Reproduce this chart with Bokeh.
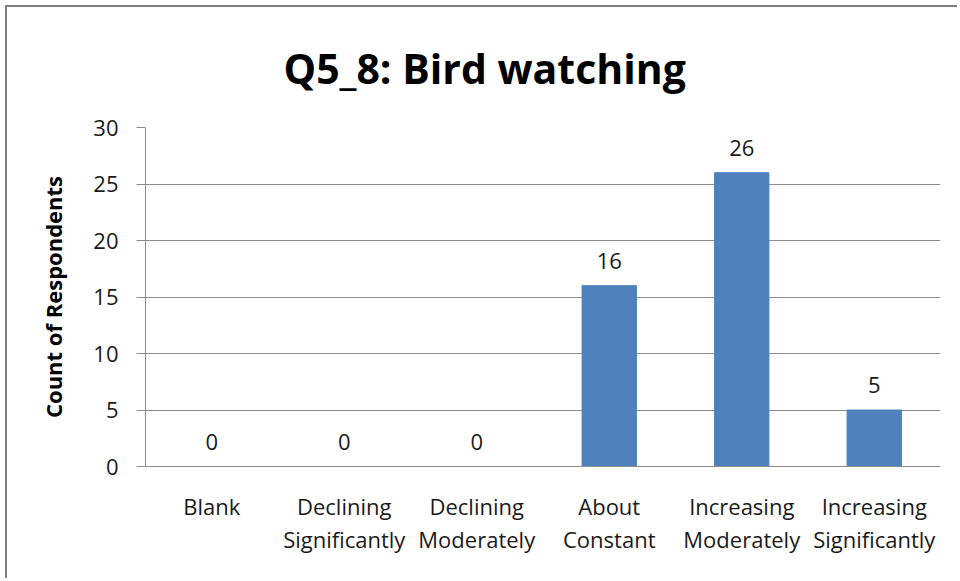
from bokeh.plotting import figure
from bokeh.models import ColumnDataSource, LabelSet, Title, FixedTicker
from bokeh.core.properties import value
from bokeh.embed import file_html
from bokeh.resources import INLINE

title_text = "Q5_8: Bird watching"
categories = ["Blank", "Declining\nSignificantly", "Declining\nModerately",
              "About\nConstant", "Increasing\nModerately", "Increasing\nSignificantly"]
counts = [0, 0, 0, 16, 26, 5]
y_ticks = [0, 5, 10, 15, 20, 25, 30]

FONT = "Open Sans"
TXT = "#1a1a1a"
GRID = "#8c8c8c"
FS = "22px"

source = ColumnDataSource(dict(cat=categories, count=counts,
                               label=[str(c) for c in counts]))

p = figure(x_range=categories, y_range=(0, 30), width=952, height=573,
           output_backend="svg", toolbar_location=None, tools="",
           min_border_left=138, min_border_right=19,
           min_border_top=112, min_border_bottom=114,
           margin=(5, 0, 0, 5))
p.title = None
t = Title(text=title_text, align="left", offset=138, vertical_align="middle",
          text_font=FONT, text_font_size="41px", text_font_style="bold",
          text_color="black", standoff=62)
p.add_layout(t, "above")

p.vbar(x="cat", top="count", width=0.41, source=source,
       fill_color="#4F81BD", line_color="#4F81BD")

labels = LabelSet(x="cat", y="count", text="label", source=source,
                  y_offset=17, text_align="center", text_baseline="bottom",
                  text_font=value(FONT), text_font_size=FS, text_color=TXT)
p.add_layout(labels)

p.outline_line_color = None
p.background_fill_color = "white"
p.border_fill_color = "white"

p.xgrid.grid_line_color = None
p.ygrid.grid_line_color = GRID
p.ygrid.grid_line_width = 1

p.yaxis.ticker = FixedTicker(ticks=y_ticks)
p.yaxis.axis_line_color = GRID
p.yaxis.major_tick_line_color = GRID
p.yaxis.major_tick_out = 9
p.yaxis.major_tick_in = 0
p.yaxis.minor_tick_line_color = None
p.yaxis.major_label_text_font = FONT
p.yaxis.major_label_text_font_size = FS
p.yaxis.major_label_text_color = TXT
p.yaxis.major_label_standoff = 18
p.yaxis.axis_label = "Count of Respondents"
p.yaxis.axis_label_text_font = FONT
p.yaxis.axis_label_text_font_size = FS
p.yaxis.axis_label_text_font_style = "bold"
p.yaxis.axis_label_text_color = "black"
p.yaxis.axis_label_standoff = 22

p.xaxis.axis_line_color = GRID
p.xaxis.major_tick_line_color = None
p.xaxis.minor_tick_line_color = None
p.xaxis.major_label_text_font = FONT
p.xaxis.major_label_text_font_size = FS
p.xaxis.major_label_text_color = TXT
p.xaxis.major_label_text_line_height = 1.1
p.xaxis.major_label_standoff = 18

p.styles = {"border-left": "2px solid #808080", "border-top": "2px solid #808080"}

open("out.html", "w").write(file_html(p, INLINE))
